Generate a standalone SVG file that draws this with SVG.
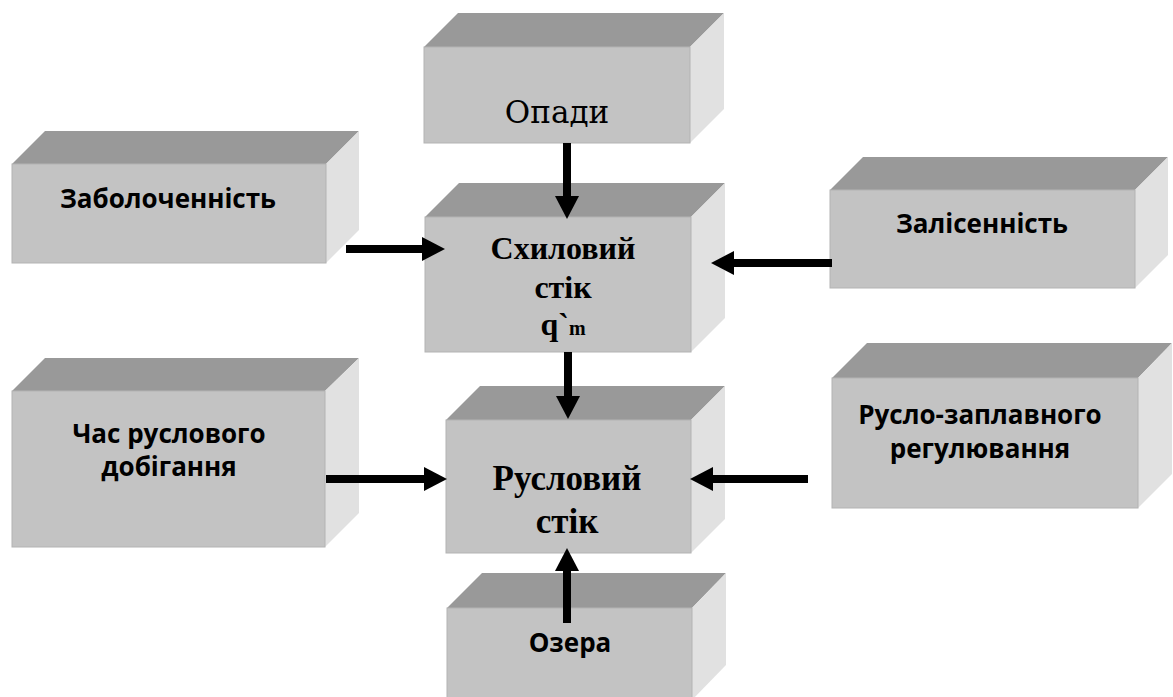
<svg xmlns="http://www.w3.org/2000/svg" width="1173" height="697" viewBox="0 0 1173 697">
<style>
.front{fill:#c3c3c3;stroke:#b3b3b3;stroke-width:1}
.top{fill:#999999}
.side{fill:#e1e1e1}
.sans{font-family:"Open Sans","Noto Sans",sans-serif;font-weight:bold;font-size:26px;fill:#000;text-anchor:middle}
.serifb{font-family:"Liberation Serif","Times New Roman",serif;font-weight:bold;font-size:32px;fill:#000;text-anchor:middle}
.big{font-size:35px}
.sub{font-size:20px}
.serif{font-family:"DejaVu Serif","Liberation Serif",serif;font-size:31px;fill:#000;text-anchor:middle}
.conn{stroke:#000;stroke-width:8;fill:none;marker-end:url(#ah)}
</style>
<defs>
<marker id="ah" viewBox="0 0 23 24" markerWidth="23" markerHeight="24" refX="2" refY="12" markerUnits="userSpaceOnUse" orient="auto">
<path d="M0,0 L23,12 L0,24 Z" fill="#000"/>
</marker>
</defs>
<rect width="1173" height="697" fill="#fff"/>

<g id="opady">
<polygon class="top" points="424,47 458,13 724,13 690,47"/>
<polygon class="side" points="690,47 724,13 724,109 690,143"/>
<rect class="front" x="424" y="47" width="266" height="96"/>
<text class="serif" x="557" y="123">Опади</text>
</g>

<g id="zabolochennist">
<polygon class="top" points="12,164 45,131 359,131 326,164"/>
<polygon class="side" points="326,164 359,131 359,230 326,263"/>
<rect class="front" x="12" y="164" width="314" height="99"/>
<text class="sans" x="168" y="208">Заболоченність</text>
</g>

<g id="skhylovyi">
<polygon class="top" points="425,217 459,183 725,183 691,217"/>
<polygon class="side" points="691,217 725,183 725,318 691,352"/>
<rect class="front" x="425" y="217" width="266" height="135"/>
<text class="serifb" x="563" y="259">Схиловий</text>
<text class="serifb" x="563" y="298">стік</text>
<text class="serifb" x="563" y="335">q`<tspan class="sub">m</tspan></text>
</g>

<g id="zalisennist">
<polygon class="top" points="830,190 863,157 1168,157 1135,190"/>
<polygon class="side" points="1135,190 1168,157 1168,255 1135,288"/>
<rect class="front" x="830" y="190" width="305" height="98"/>
<text class="sans" x="982" y="233">Залісенність</text>
</g>

<g id="chas">
<polygon class="top" points="12,391 45,358 359,358 325,391"/>
<polygon class="side" points="325,391 359,358 359,513 325,547"/>
<rect class="front" x="12" y="391" width="313" height="156"/>
<text class="sans" x="169" y="443">Час руслового</text>
<text class="sans" x="169" y="476">добігання</text>
</g>

<g id="ruslovyi">
<polygon class="top" points="446,420 480,386 725,386 691,420"/>
<polygon class="side" points="691,420 725,386 725,519 691,553"/>
<rect class="front" x="446" y="420" width="245" height="133"/>
<text class="serifb big" x="567" y="490">Русловий</text>
<text class="serifb big" x="567" y="533">стік</text>
</g>

<g id="ruslo-zaplavnogo">
<polygon class="top" points="832,378 867,343 1172,343 1138,378"/>
<polygon class="side" points="1138,378 1172,343 1172,474 1138,508"/>
<rect class="front" x="832" y="378" width="306" height="130"/>
<text class="sans" x="980" y="424">Русло-заплавного</text>
<text class="sans" x="980" y="458">регулювання</text>
</g>

<g id="ozera">
<polygon class="top" points="447,608 482,573 726,573 692,608"/>
<polygon class="side" points="692,608 726,573 726,665 692,700"/>
<rect class="front" x="447" y="608" width="245" height="92"/>
<text class="sans" x="570" y="652">Озера</text>
</g>

<g id="connectors">
<line class="conn" x1="567" y1="143" x2="567" y2="198"/>
<line class="conn" x1="346" y1="249" x2="424" y2="249"/>
<line class="conn" x1="832" y1="263" x2="732" y2="263"/>
<line class="conn" x1="568" y1="352" x2="568" y2="398"/>
<line class="conn" x1="326" y1="479" x2="426" y2="479"/>
<line class="conn" x1="808" y1="479" x2="711" y2="479"/>
<line class="conn" x1="567" y1="623" x2="567" y2="569"/>
</g>
</svg>
